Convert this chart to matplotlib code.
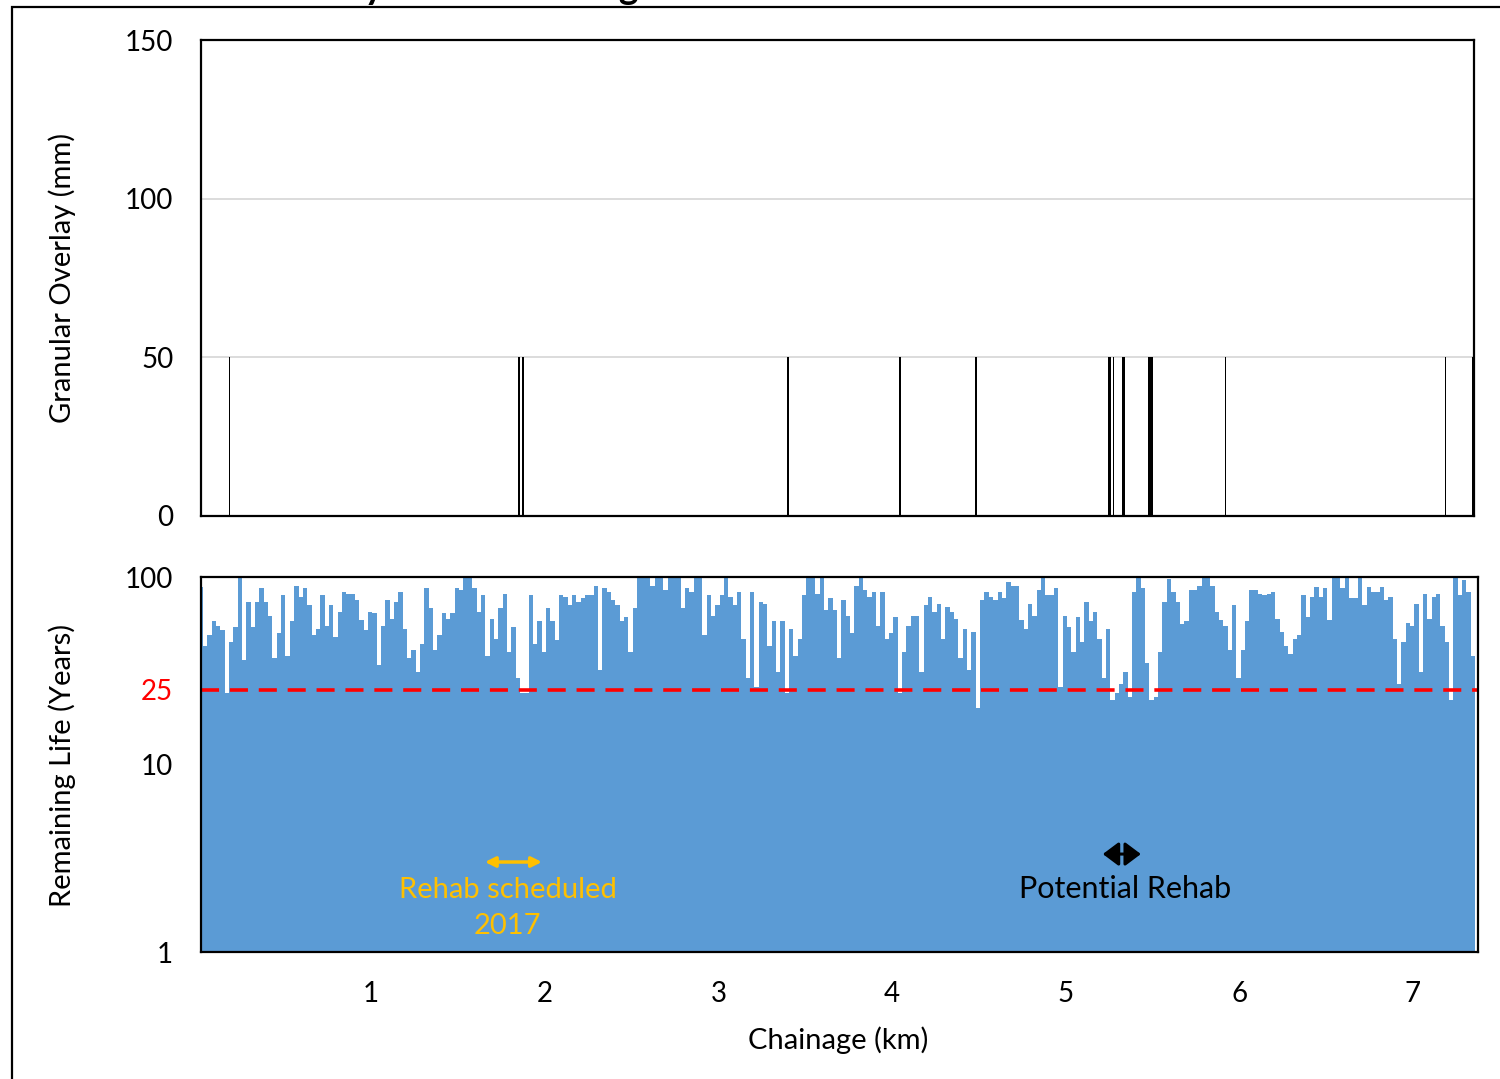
"""
Granular overlay depth and remaining life along the chainage.
"""

import numpy as np
import matplotlib
matplotlib.use("Agg")
import matplotlib.pyplot as plt
from matplotlib.patches import Rectangle

plt.rcParams["font.family"] = ["Lato", "DejaVu Sans"]

# granular overlay sections: start km, end km, depth mm
overlay_start = [0.180, 1.849, 1.872, 3.395, 4.040, 4.475, 5.244, 5.272,
                 5.304, 5.326, 5.472, 5.919, 7.186, 7.337]
overlay_end = [0.186, 1.855, 1.878, 3.405, 4.050, 4.490, 5.260, 5.280,
               5.308, 5.340, 5.500, 5.925, 7.192, 7.352]
overlay_mm = [50, 50, 50, 50, 50, 50, 50, 50, 70, 50, 50, 50, 50, 50]

# remaining life (years), one value per 25 m segment from 0.02 km
remaining_life = [
    88, 43, 49, 58, 55, 52, 24, 45, 54, 100,
    36, 74, 54, 74, 87, 74, 62, 37, 50, 80,
    38, 58, 90, 78, 87, 71, 49, 53, 80, 55,
    71, 48, 65, 83, 81, 81, 75, 59, 52, 65,
    64, 34, 55, 75, 60, 74, 83, 53, 37, 41,
    31, 44, 87, 68, 41, 49, 64, 60, 64, 87,
    85, 100, 100, 87, 65, 80, 38, 60, 47, 68,
    81, 40, 54, 29, 24, 24, 80, 44, 58, 40,
    68, 58, 46, 80, 78, 71, 80, 74, 77, 80,
    80, 90, 32, 87, 83, 75, 71, 58, 61, 40,
    68, 100, 100, 100, 90, 100, 100, 85, 100, 100,
    100, 68, 87, 83, 100, 100, 49, 80, 62,
    71, 80, 100, 78, 71, 83, 47, 29, 83, 26,
    74, 72, 43, 58, 31, 58, 24, 53, 38, 47,
    80, 100, 100, 81, 100, 67, 77, 67, 37, 75,
    62, 50, 90, 100, 85, 78, 83, 55, 83, 47,
    50, 61, 24, 40, 55, 62, 62, 31, 71, 78,
    65, 72, 47, 69, 65, 60, 37, 53, 32,
    51, 20, 75, 83, 78, 75, 83, 77, 94, 90,
    90, 59, 53, 72, 62, 85, 100, 80, 80, 87,
    26, 62, 54, 40, 61, 45, 74, 58, 65, 47,
    29, 53, 22, 24, 27, 31, 23, 83, 100, 87,
    35, 22, 23, 40, 74, 98, 83, 74, 56, 58,
    85, 85, 90, 100, 100, 90, 65, 59, 55,
    41, 71, 29, 41, 58, 85, 85, 81, 80, 81,
    83, 60, 51, 43, 39, 47, 49, 80, 61, 78,
    88, 78, 87, 59, 100, 100, 87, 100, 77, 77,
    100, 71, 88, 83, 83, 88, 75, 78, 47, 27,
    45, 57, 55, 72, 31, 81, 60, 78, 81, 55,
    45, 22, 100, 80, 96, 83, 38,
]
segment_km = 0.025
chainage = 0.02 + segment_km * np.arange(len(remaining_life))

life_threshold = 25
x_ticks = [1, 2, 3, 4, 5, 6, 7]
overlay_ticks = [0, 50, 100, 150]
life_ticks = [1, 10, 25, 100]

azul = "#5B9BD5"
naranja = "#FFC000"

fig = plt.figure(figsize=(15, 10.79), dpi=100)

# ---- top: granular overlay
ax1 = fig.add_axes([0.134, 0.5218, 0.8487, 0.4411])
ax1.bar(overlay_start, overlay_mm,
        width=np.array(overlay_end) - np.array(overlay_start),
        align="edge", color="black", linewidth=0)
ax1.set_xlim(0.021, 7.351)
ax1.set_ylim(0, 150)
ax1.set_yticks(overlay_ticks)
ax1.set_xticks([])
ax1.grid(axis="y", color="#D9D9D9", linewidth=1.3)
ax1.set_axisbelow(True)
ax1.tick_params(axis="y", length=0, pad=20, labelsize=20)
for s in ax1.spines.values():
    s.set_linewidth(1.6)
    s.set_color("black")

# ---- bottom: remaining life
ax2 = fig.add_axes([0.134, 0.1177, 0.8513, 0.3475])
ax2.set_yscale("log")
life = np.array(remaining_life, dtype=float)
ax2.bar(chainage, life - 1, bottom=1, width=segment_km, color=azul,
        linewidth=0)
ax2.axhline(life_threshold, color="red", linestyle=(0, (5, 3)),
            linewidth=2.6)
ax2.set_xlim(0.021, 7.374)
ax2.set_ylim(1, 100)
ax2.set_yticks(life_ticks)
ax2.set_yticklabels([str(t) for t in life_ticks])
ax2.yaxis.set_minor_locator(matplotlib.ticker.NullLocator())
for lab in ax2.get_yticklabels():
    if lab.get_text() == "25":
        lab.set_color("red")
ax2.set_xticks(x_ticks)
ax2.tick_params(axis="both", length=0, labelsize=20)
ax2.tick_params(axis="y", pad=20)
ax2.tick_params(axis="x", pad=21)
for s in ax2.spines.values():
    s.set_linewidth(1.6)
    s.set_color("black")

# annotations
ax2.annotate("", xy=(1.656, 3.02), xytext=(1.984, 3.02),
             arrowprops=dict(arrowstyle="<|-|>", color=naranja, lw=2.5,
                             mutation_scale=15, shrinkA=0, shrinkB=0))
ax2.text(1.787, 1.72, "Rehab scheduled\n2017", color=naranja, ha="center",
         va="center", fontsize=21, linespacing=1.45)
ax2.annotate("", xy=(5.214, 3.33), xytext=(5.433, 3.33),
             arrowprops=dict(arrowstyle="<|-|>,head_length=0.6,head_width=0.45",
                             color="black", lw=2.2,
                             mutation_scale=16, shrinkA=0, shrinkB=0))
ax2.text(5.341, 2.17, "Potential Rehab", color="black", ha="center",
         va="center", fontsize=22)

# labels
fig.text(62 / 1500, 0.742, "Granular Overlay (mm)", rotation=90,
         ha="center", va="center", fontsize=21)
fig.text(62 / 1500, 0.291, "Remaining Life (Years)", rotation=90,
         ha="center", va="center", fontsize=21)
fig.text(838 / 1500, 0.0361, "Chainage (km)", ha="center", va="center",
         fontsize=21)

# title cut by the frame of the original picture
fig.text(0.269, 1 + 1 / 1079, "Granular Overlay and Remaining Life",
         ha="center", va="baseline", fontsize=27, fontweight="bold")

fig.add_artist(Rectangle((12 / 1500, -0.05), 1.2, 1.05 - 7 / 1079,
                         transform=fig.transFigure, fill=False,
                         edgecolor="black", linewidth=1.6))

fig.savefig("out.png", dpi=100)
